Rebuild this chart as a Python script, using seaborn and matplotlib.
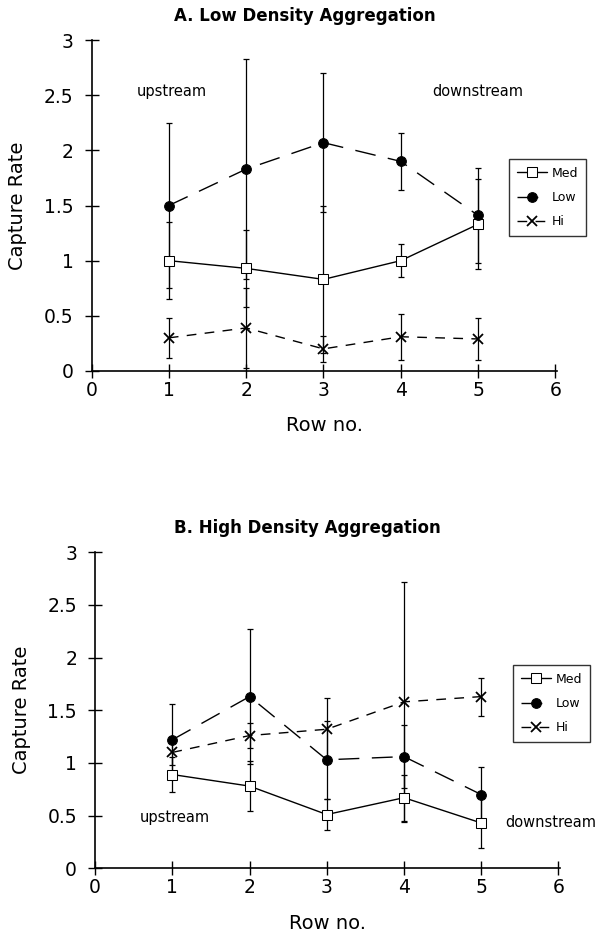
import matplotlib
matplotlib.use("Agg")
import matplotlib.pyplot as plt
import seaborn as sns
import numpy as np
import pandas as pd

rows = [1, 2, 3, 4, 5]

# Panel A: Low Density Aggregation
a_med = [1.00, 0.93, 0.83, 1.00, 1.33]
a_med_err = [0.35, 0.35, 0.67, 0.15, 0.41]
a_low = [1.50, 1.83, 2.07, 1.90, 1.41]
a_low_err = [0.75, 1.00, 0.63, 0.26, 0.43]
a_hi = [0.30, 0.39, 0.20, 0.31, 0.29]
a_hi_err = [0.18, 0.36, 0.12, 0.21, 0.19]

# Panel B: High Density Aggregation
b_med = [0.89, 0.78, 0.51, 0.67, 0.43]
b_med_err = [0.17, 0.24, 0.15, 0.22, 0.24]
b_low = [1.22, 1.63, 1.03, 1.06, 0.70]
b_low_err = [0.34, 0.64, 0.37, 0.30, 0.26]
b_hi = [1.10, 1.26, 1.32, 1.58, 1.63]
b_hi_err = [0.12, 0.12, 0.30, 1.14, 0.18]

series_names = ["Med", "Low", "Hi"]
titles = ["A. Low Density Aggregation", "B. High Density Aggregation"]
xticks = [0, 1, 2, 3, 4, 5, 6]
yticks = [0, 0.5, 1, 1.5, 2, 2.5, 3]
ytick_labels = ["0", "0.5", "1", "1.5", "2", "2.5", "3"]

sns.set_style("ticks")
plt.rcParams['font.family'] = ['DejaVu Sans']
for k in ["text.color", "axes.labelcolor", "xtick.color", "ytick.color", "axes.edgecolor"]:
    plt.rcParams[k] = "black"

fig = plt.figure(figsize=(6.06, 9.32), dpi=100)
axA = fig.add_axes([0.151, 0.602, 0.768, 0.355])
axB = fig.add_axes([0.157, 0.0684, 0.767, 0.339])

styles = {
    "Med": dict(marker="s", mfc="white", mec="black", ms=7, ls="-", lw=1.0),
    "Low": dict(marker="o", mfc="black", mec="black", ms=7, ls=(0, (15, 9)), lw=1.0),
    "Hi": dict(marker="x", mfc="black", mec="black", ms=7, mew=1.3, ls=(0, (7, 6)), lw=1.0),
}

def draw(ax, data, up_xy, down_xy, legend_bbox):
    for name, (vals, errs) in zip(series_names, data):
        ax.errorbar(rows, vals, yerr=errs, fmt="none", ecolor="black",
                    elinewidth=0.9, capsize=2.5, capthick=0.9, zorder=2)
    for name, (vals, errs) in zip(series_names, data):
        df = pd.DataFrame({"row": rows, "val": vals})
        st = styles[name]
        sns.lineplot(data=df, x="row", y="val", ax=ax, color="black",
                     label=name, zorder=3, **{k: v for k, v in st.items() if k not in ("ls",)},
                     linestyle=st["ls"])
    ax.set_xlim(0, 6.02)
    ax.set_ylim(0, 3)
    ax.set_xticks(xticks)
    ax.set_yticks(yticks)
    ax.set_yticklabels(ytick_labels)
    sns.despine(ax=ax)
    for s in ["left", "bottom"]:
        ax.spines[s].set_linewidth(1.2)
    ax.tick_params(direction="inout", length=10, width=1.0, labelsize=13.5)
    ax.tick_params(axis="y", pad=8)
    ax.tick_params(axis="x", pad=2)
    ax.set_xlabel("Row no.", fontsize=14, labelpad=12)
    ax.set_ylabel("Capture Rate", fontsize=14, labelpad=12)
    ax.text(up_xy[0], up_xy[1], "upstream", fontsize=10.5, ha="center", va="center")
    ax.text(down_xy[0], down_xy[1], "downstream", fontsize=10.5, ha="center", va="center")
    leg = ax.legend(loc="upper left", bbox_to_anchor=legend_bbox, bbox_transform=fig.transFigure,
                    frameon=True, fancybox=False, edgecolor="black", fontsize=9,
                    handlelength=2.4, handletextpad=0.4, borderpad=0.6, labelspacing=0.9)
    leg.get_frame().set_linewidth(1.0)
    ax.set_facecolor("white")

draw(axA, [(a_med, a_med_err), (a_low, a_low_err), (a_hi, a_hi_err)],
     (1.04, 2.53), (5.0, 2.53), (503 / 606, 1 - 153 / 932))
draw(axB, [(b_med, b_med_err), (b_low, b_low_err), (b_hi, b_hi_err)],
     (1.03, 0.48), (5.9, 0.43), (507 / 606, 1 - 659 / 932))

fig.text(305 / 606, 1 - 16 / 932, titles[0], ha="center", va="center", fontsize=12, fontweight="bold")
fig.text(307 / 606, 1 - 528 / 932, titles[1], ha="center", va="center", fontsize=12, fontweight="bold")

fig.savefig("out.png", dpi=100, facecolor="white")
